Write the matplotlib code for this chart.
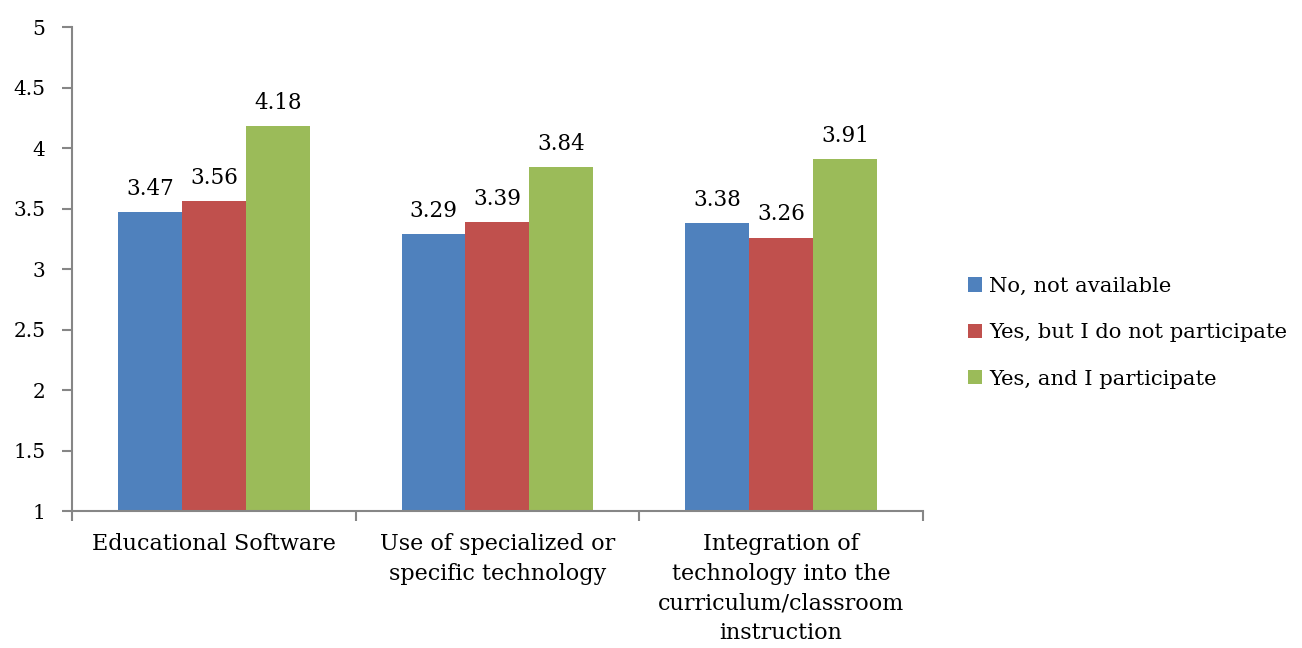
import numpy as np
import matplotlib.pyplot as plt

# survey means by professional development topic
categories = ["Educational Software",
              "Use of specialized or\nspecific technology",
              "Integration of\ntechnology into the\ncurriculum/classroom\ninstruction"]
series_names = ["No, not available",
                "Yes, but I do not participate",
                "Yes, and I participate"]
not_available = [3.47, 3.29, 3.38]
not_participating = [3.56, 3.39, 3.26]
participating = [4.18, 3.84, 3.91]

colors = ["#4F81BD", "#C0504D", "#9BBB59"]
axis_gray = "#868686"

plt.rcParams['font.family'] = ['DejaVu Serif']

fig = plt.figure(figsize=(13.02, 6.48), dpi=100)
ax = fig.add_axes([0.0553, 0.2114, 0.6536, 0.7469])

x = np.arange(len(categories))
w = 0.2256
for i, (vals, name) in enumerate(zip([not_available, not_participating, participating], series_names)):
    bars = ax.bar(x + (i - 1) * w, np.array(vals) - 1, w, bottom=1,
                  color=colors[i], label=name)
    for b, v in zip(bars, vals):
        ax.text(b.get_x() + b.get_width() / 2, v + 0.1, f"{v:.2f}",
                ha='center', va='bottom', fontsize=15.5)

ax.set_ylim(1, 5)
ax.set_xlim(-0.5, 2.5)
ax.set_yticks(np.arange(1, 5.01, 0.5))
ax.set_yticklabels([f"{t:g}" for t in np.arange(1, 5.01, 0.5)], fontsize=14.5)

# category boundaries get the tick marks, labels sit centred underneath
ax.set_xticks([-0.5, 0.5, 1.5, 2.5])
ax.set_xticklabels([])
ax.set_xticks(x, minor=True)
ax.set_xticklabels(categories, minor=True, fontsize=16, linespacing=1.45, va='top')
ax.tick_params(axis='x', which='minor', length=0, pad=16)
ax.tick_params(axis='x', which='major', length=7, width=1.5, color=axis_gray, direction='out')
ax.tick_params(axis='y', length=7, width=1.5, color=axis_gray, direction='out', pad=12)

for side in ['top', 'right']:
    ax.spines[side].set_visible(False)
for side in ['left', 'bottom']:
    ax.spines[side].set_color(axis_gray)
    ax.spines[side].set_linewidth(1.5)

ax.legend(loc='center left', bbox_to_anchor=(1.053, 0.368), frameon=False,
          fontsize=15.2, handlelength=0.65, handleheight=0.65, handletextpad=0.35,
          labelspacing=1.3, borderpad=0, borderaxespad=0)

fig.savefig("out.png", dpi=100)
